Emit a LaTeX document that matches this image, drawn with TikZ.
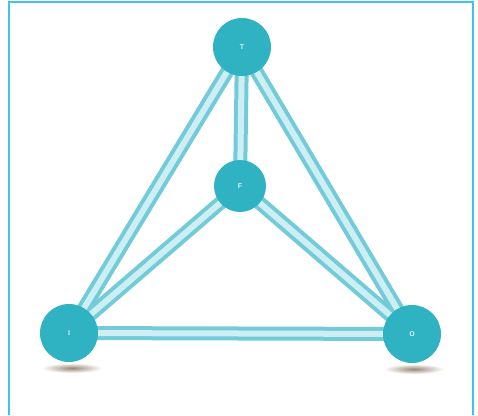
\documentclass[tikz,border=0pt]{standalone}
\usepackage{fontspec}
\setsansfont{Liberation Sans}
\begin{document}
\begin{tikzpicture}[x=1pt,y=-1pt,
  ball/.style={circle, fill=ballc, minimum size=58pt, inner sep=0pt, text=white!85!ballc, font=\sffamily\bfseries\scriptsize},
  smallball/.style={ball, minimum size=52pt},
  tubeouter/.style={draw=tubec, line width=14pt},
  tubeinner/.style={draw=tubel, line width=6pt},
  frameline/.style={draw=framec, line width=2pt}]
\definecolor{ballc}{HTML}{2FB2C2}
\definecolor{tubec}{HTML}{72CBD8}
\definecolor{tubel}{HTML}{CDEFF3}
\definecolor{framec}{HTML}{3EC4E8}
\useasboundingbox (0,0) rectangle (478,415);
\fill[white] (0,0) rectangle (478,415);
\draw[frameline] (8.5,415) -- (8.5,2) -- (472.5,2) -- (472.5,415);
% shadows
\shade[inner color=black!55!brown!60, outer color=white] (72,368) ellipse (30 and 5);
\shade[inner color=black!55!brown!60, outer color=white] (414,369) ellipse (30 and 5);
% coordinates
\coordinate (t) at (242,47);
\coordinate (f) at (240,186);
\coordinate (i) at (69,333);
\coordinate (o) at (412,334);
% tubes
\foreach \a/\b in {t/i, t/f, t/o, f/i, f/o, i/o}{
  \draw[tubeouter] (\a) -- (\b);
}
\foreach \a/\b in {t/i, t/f, t/o, f/i, f/o, i/o}{
  \draw[tubeinner] (\a) -- (\b);
}
% balls
\node[ball] (T) at (t) {T};
\node[smallball] (F) at (f) {F};
\node[ball] (I) at (i) {I};
\node[ball] (O) at (o) {O};
\end{tikzpicture}
\end{document}
